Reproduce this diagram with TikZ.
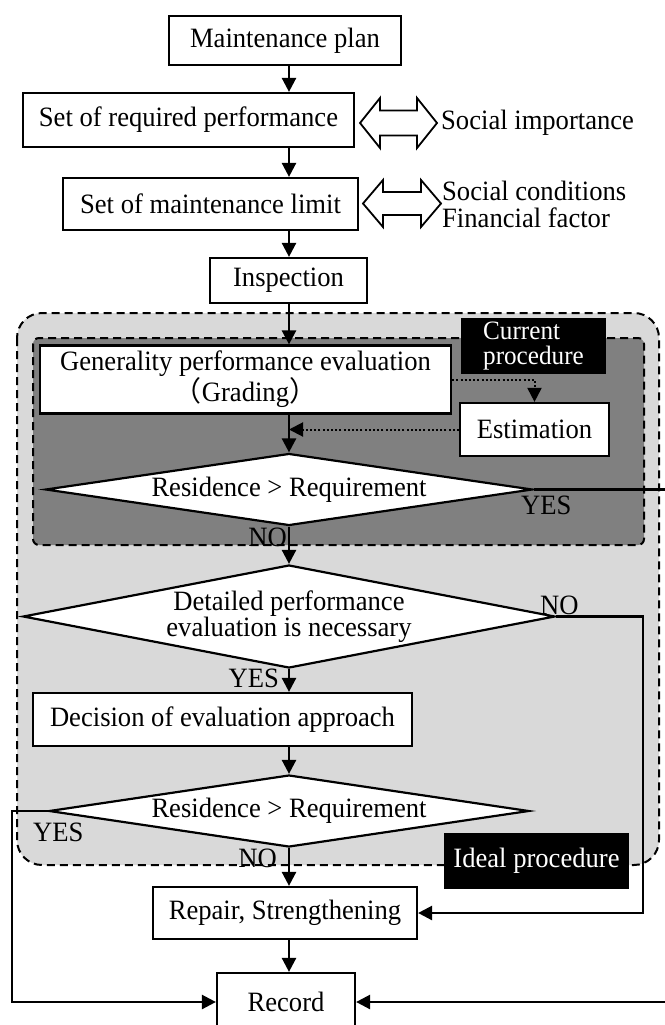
\documentclass[tikz,border=0pt]{standalone}
\usepackage{fontspec}
\setmainfont{Liberation Serif}[FakeStretch=0.95]
\newfontfamily\cjkfont{Noto Sans CJK JP}
\usetikzlibrary{shapes.geometric,arrows.meta}
\begin{document}
\begin{tikzpicture}[x=1pt,y=-1pt,
  font=\fontsize{28}{26.5}\selectfont,
  box/.style={draw, line width=2.2pt, fill=white, inner sep=0pt, align=center},
  dia/.style={diamond, draw, line width=2.2pt, fill=white, inner sep=0pt, align=center},
  arr/.style={line width=2.5pt, -{Triangle[length=14pt,width=14pt]}},
  dotarr/.style={line width=2pt, dash pattern=on 2pt off 2.2pt, -{Triangle[length=14pt,width=14pt]}},
  lbl/.style={inner sep=0pt},
  tag/.style={fill=black, text=white, inner sep=0pt, align=left},
  region/.style={dash pattern=on 8pt off 5pt, line width=2pt},
  dbl/.style={draw, line width=1.8pt, fill=white, line join=miter}
]
\useasboundingbox[fill=white] (0,0) rectangle (664,1025);

% regions
\draw[region, fill=black!15, rounded corners=25pt] (17,313) rectangle (659,865);
\draw[region, fill=black!50, rounded corners=6pt] (33,338) rectangle (644,545);

% column of the main flow
\coordinate (col) at (289,0);
\coordinate (rx) at (643,0);
\coordinate (lx) at (12,0);
\coordinate (offR) at (700,489.5);

% nodes
\node[box, minimum width=232, minimum height=49] (plan) at (285,40.5) {Maintenance plan};
\node[box, minimum width=331, minimum height=54] (req) at (188.5,120) {Set of required performance};
\node[box, minimum width=295, minimum height=52] (lim) at (210.5,204) {Set of maintenance limit};
\node[box, minimum width=157, minimum height=45] (insp) at (288.5,280.5) {Inspection};
\node[tag, minimum width=145, minimum height=56, font=\fontsize{26.5}{25.5}\selectfont] (cur) at (533.5,346) {Current\\procedure};
\node[box, minimum width=411, minimum height=68] (gen) at (245.5,379.5) {Generality performance evaluation\\{\cjkfont （}Grading{\cjkfont ）}};
\node[box, minimum width=149, minimum height=53] (est) at (534.5,429.5) {Estimation};
\node[dia, aspect=6.76, minimum width=487, minimum height=72] (d1) at (289,489.5) {Residence > Requirement};
\node[dia, aspect=5.17, minimum width=532, minimum height=103] (d2) at (289,616.5) {Detailed performance\\evaluation is necessary};
\node[box, minimum width=379, minimum height=53] (dec) at (222.5,719.5) {Decision of evaluation approach};
\node[dia, aspect=6.67, minimum width=480, minimum height=72] (d3) at (289,811) {Residence > Requirement};
\node[tag, minimum width=185, minimum height=56] (ideal) at (536.5,861) {Ideal procedure};
\node[box, minimum width=264, minimum height=52] (rep) at (285,913) {Repair, Strengthening};
\node[box, minimum width=138, minimum height=58] (rec) at (286,1002) {Record};

% side texts
\node[lbl, anchor=west] (soc1) at (441,123) {Social importance};
\node[lbl, anchor=west] (soc2) at (442,190.5) {Social conditions};
\node[lbl, anchor=west] (soc3) at (442,217.5) {Financial factor};

% double arrows
\draw[dbl] (360,123) -- (380,98) -- (380,110.5) -- (417,110.5) -- (417,98) -- (437,123)
  -- (417,148) -- (417,135.5) -- (380,135.5) -- (380,148) -- cycle;
\draw[dbl] (363,203.5) -- (383,180) -- (383,192) -- (421,192) -- (421,180) -- (441,203.5)
  -- (421,227) -- (421,215) -- (383,215) -- (383,227) -- cycle;

% labels
\node[lbl, anchor=west] (yes1) at (521,505) {YES};
\node[lbl, anchor=east] (no1) at (287,537) {NO};
\node[lbl, anchor=west] (no2) at (540,605) {NO};
\node[lbl, anchor=east] (yes2) at (279,678) {YES};
\node[lbl, anchor=west] (yes3) at (33,832) {YES};
\node[lbl, anchor=east] (no3) at (277,858) {NO};

% connectors
\draw[arr] (plan.south -| col) -- (req.north -| col);
\draw[arr] (req.south -| col) -- (lim.north -| col);
\draw[arr] (lim.south -| col) -- (insp.north -| col);
\draw[arr] (insp.south -| col) -- (gen.north -| col);
\draw[arr] (gen.south -| col) -- (d1.north);
\draw[dotarr] (gen.east) -| (est.north);
\draw[dotarr] (est.west) -- (est.west -| col);
\draw[arr] (d1.east) -- (offR) |- (rec.east);
\draw[arr] (d1.south) -- (d2.north);
\draw[arr] (d2.east) -- (d2.east -| rx) |- (rep.east);
\draw[arr] (d2.south) -- (dec.north -| col);
\draw[arr] (dec.south -| col) -- (d3.north);
\draw[arr] (d3.west) -- (d3.west -| lx) |- (rec.west);
\draw[arr] (d3.south) -- (rep.north -| col);
\draw[arr] (rep.south -| col) -- (rec.north -| col);
\end{tikzpicture}
\end{document}
